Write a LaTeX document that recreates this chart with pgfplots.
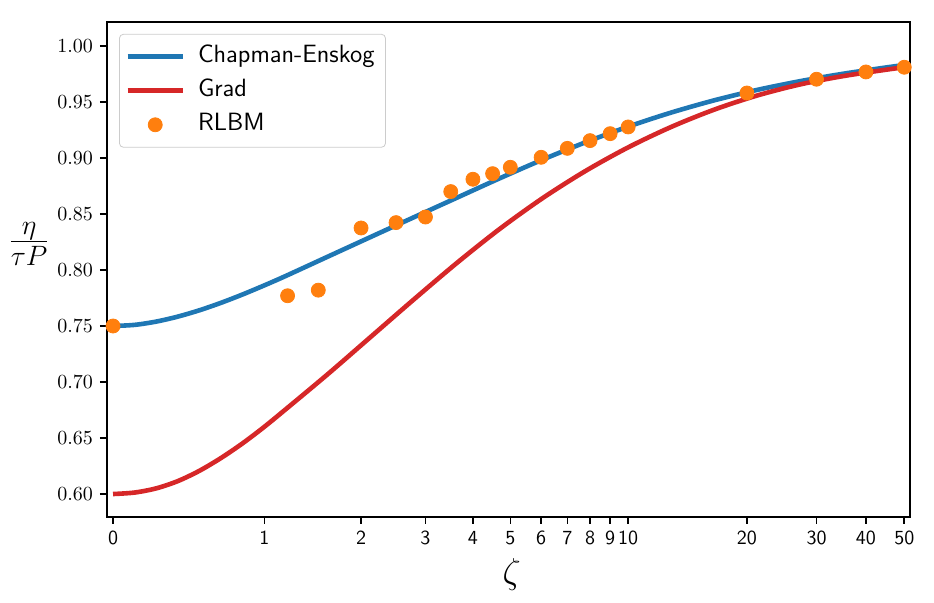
\RequirePackage{fix-cm}
\documentclass[border=0pt]{standalone}
\usepackage{fontspec}
\usepackage{pgfplots}
\usepackage{pgfplotstable}
\pgfplotsset{compat=1.18}

\definecolor{ceblue}{HTML}{1F77B4}
\definecolor{gradred}{HTML}{D62728}
\definecolor{rlbmorange}{HTML}{FF7F0E}

% Chapman-Enskog shear viscosity
\pgfplotstableread{
z y
0 0.7500
0.1253 0.7510
0.2526 0.7539
0.3838 0.7583
0.5211 0.7639
0.6665 0.7705
0.8223 0.7779
0.9910 0.7859
1.1752 0.7943
1.6019 0.8119
2.1293 0.8295
2.7904 0.8470
3.6269 0.8644
4.6912 0.8818
6.0502 0.8985
7.7894 0.9140
10.0179 0.9281
12.8756 0.9406
16.5426 0.9515
21.2488 0.9608
27.2899 0.9686
35.0456 0.9752
45.0030 0.9808
50 0.9830
}\chapman

% Grad 14-moment result
\pgfplotstableread{
z y
0 0.6000
0.1253 0.6013
0.2526 0.6050
0.3838 0.6114
0.5211 0.6205
0.6665 0.6318
0.8223 0.6448
0.9910 0.6593
1.1752 0.6750
1.6019 0.7070
2.1293 0.7403
2.7904 0.7736
3.6269 0.8061
4.6912 0.8366
6.0502 0.8641
7.7894 0.8884
10.0179 0.9096
12.8756 0.9278
16.5426 0.9432
21.2488 0.9558
27.2899 0.9657
35.0456 0.9731
45.0030 0.9788
50 0.9810
}\grad

% lattice Boltzmann simulations
\pgfplotstableread{
z y
0 0.7500
1.2 0.7770
1.5 0.7820
2 0.8375
2.5 0.8423
3 0.8473
3.5 0.8700
4 0.8810
4.5 0.8860
5 0.8917
6 0.9006
7 0.9086
8 0.9155
9 0.9217
10 0.9277
20 0.9580
30 0.9703
40 0.9768
50 0.9810
}\rlbm

\begin{document}
\begin{tikzpicture}
\path[use as bounding box] (-53.5pt,-43pt) rectangle (413.5pt,258.5pt);
\begin{axis}[
  at={(0pt,0pt)}, anchor=south west,
  scale only axis, width=401.5pt, height=247.5pt,
  x coord trafo/.code={\pgfmathparse{ln(#1+sqrt((#1)*(#1)+1))}},
  x coord inv trafo/.code={\pgfmathparse{sinh(#1)}},
  xmin=-0.035, xmax=51.7,
  ymin=0.5795, ymax=1.0214,
  xtick={0,1,2,3,4,5,6,7,8,9,10,20,30,40,50},
  xticklabels={0,1,2,3,4,5,6,7,8,9,10,20,30,40,50},
  ytick={0.60,0.65,0.70,0.75,0.80,0.85,0.90,0.95,1.00},
  yticklabel style={/pgf/number format/.cd, fixed, fixed zerofill, precision=2},
  xticklabel style={font=\sffamily\fontsize{10}{12}\selectfont},
  tick label style={font=\fontsize{10}{12}\selectfont},
  xtick pos=bottom, ytick pos=left,
  tick align=outside,
  major tick length=3.5pt,
  every tick/.style={black, line width=0.8pt},
  axis line style={line width=0.8pt},
  xlabel={$\zeta$},
  ylabel={$\frac{\eta}{\tau P}$},
  xlabel style={font=\fontsize{18}{22}\selectfont, at={(axis description cs:0.504,-0.117)}, anchor=center},
  ylabel style={font=\fontsize{20}{24}\selectfont, rotate=-90, at={(axis description cs:-0.097,0.5515)}, anchor=center},
  legend cell align=left,
  legend image code/.code={\draw[mark repeat=2,mark phase=2,#1] plot coordinates {(0pt,0pt) (13.75pt,0pt) (27.5pt,0pt)};},
  legend style={at={(0.015,0.976)}, anchor=north west, draw=black!20, rounded corners=2pt,
    font=\sffamily\fontsize{12.5}{14}\selectfont, inner xsep=3pt, inner ysep=3pt,
    nodes={inner sep=2.5pt, text height=8.5pt, text depth=3pt}, row sep=0.5pt, column sep=4pt},
]
\addplot[ceblue, line width=2.3pt, smooth] table[x=z, y=y] {\chapman};
\addlegendentry{Chapman-Enskog}
\addplot[gradred, line width=2.3pt, smooth] table[x=z, y=y] {\grad};
\addlegendentry{Grad}
\addplot[only marks, mark=*, mark size=3.5pt, mark options={fill=rlbmorange, draw=rlbmorange}] table[x=z, y=y] {\rlbm};
\addlegendentry{RLBM}
\end{axis}
\end{tikzpicture}
\end{document}
